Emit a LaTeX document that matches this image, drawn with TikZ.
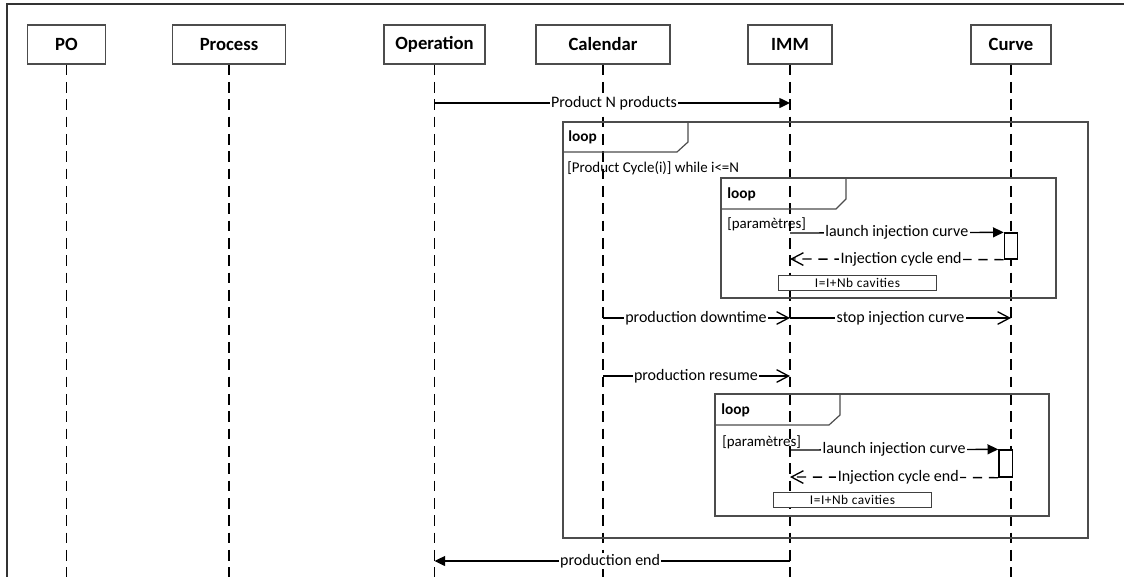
\documentclass[tikz,border=0pt]{standalone}
\usepackage{fontspec}
\setmainfont{Carlito}
\usetikzlibrary{arrows.meta}
\begin{document}
\begin{tikzpicture}[x=0.75pt,y=-0.75pt,
  head/.style={draw=black!70, line width=0.8pt, minimum height=29.25pt, inner sep=0pt, font=\fontsize{14}{16}\selectfont\bfseries},
  life/.style={black, line width=1pt, dash pattern=on 8pt off 5pt},
  frame/.style={draw=black!70, line width=0.9pt},
  msg/.style={black, line width=1pt},
  rmsg/.style={black, line width=1pt, dash pattern=on 7pt off 5pt},
  fillarrow/.style={-{Triangle[length=8pt,width=7.5pt]}},
  openarrow/.style={-{Straight Barb[length=9pt,width=9.5pt,line width=1pt]}},
  lbl/.style={fill=white, inner sep=1pt, font=\fontsize{12}{14}\selectfont},
  looplbl/.style={anchor=west, inner sep=0pt, font=\fontsize{11.5}{13}\selectfont\bfseries},
  guard/.style={anchor=west, inner sep=0pt, font=\fontsize{11.2}{13}\selectfont},
  note/.style={draw=black!75, line width=0.7pt, fill=white, minimum width=119pt, minimum height=11pt, inner sep=0pt, font=\fontsize{10}{11}\selectfont\addfontfeature{LetterSpace=4}},
  act/.style={draw=black, line width=1pt, fill=white, minimum width=10pt, inner sep=0pt}
]
\useasboundingbox (0,0) rectangle (1124,576);
% outer frame
\draw[black!80, line width=1.5pt] (7,580) -- (7,4) -- (1130,4);

% lifeline heads
\node[head, minimum width=58.5pt] (po) at (66.5,44.5) {PO};
\node[head, minimum width=84.75pt] (proc) at (229,44.5) {Process};
\node[head, minimum width=75.75pt] (oper) at (434.5,44.5) {Operation};
\node[head, minimum width=100.5pt] (cal) at (603,44.5) {Calendar};
\node[head, minimum width=63pt] (imm) at (790,44.5) {IMM};
\node[head, minimum width=60pt] (curve) at (1011,44.5) {Curve};

% lifeline ends
\coordinate (poE) at (66.5,580);
\coordinate (procE) at (229,580);
\coordinate (operE) at (434.5,580);
\coordinate (calE) at (603,580);
\coordinate (immE) at (790,580);
\coordinate (curveE) at (1011,580);
\draw[life] (po.south) -- (poE);
\draw[life] (proc.south) -- (procE);
\draw[life] (oper.south) -- (operE);
\draw[life] (cal.south) -- (calE);
\draw[life] (imm.south) -- (immE);
\draw[life] (curve.south) -- (curveE);

% message 1
\coordinate (m1a) at (434.5,103);
\coordinate (m1b) at (790,103);
\draw[msg, fillarrow] (m1a) -- (m1b) node[lbl, pos=0.505] (l1) {Product N products};

% outer loop
\draw[frame] (563,122) rectangle (1088,538);
\draw[frame] (688,122) -- (688,142) -- (677,152) -- (563,152);
\node[looplbl] (loop1) at (568,137) {loop};
\node[guard] (g1) at (567,168) {[Product Cycle(i)] while i<=N};

% inner loop 1
\draw[frame] (721,178) rectangle (1056,298);
\draw[frame] (846,178) -- (846,199) -- (836,209) -- (721,209);
\node[looplbl] (loop2) at (727,194) {loop};
\node[guard] (g2) at (727,224) {[paramètres]};
\node[act, minimum height=19.5pt] (act1) at (1011,246) {};
\coordinate (a1) at (790,233);
\draw[msg, fillarrow] (a1) -- (act1.north west) node[lbl, pos=0.5] (l2) {launch injection curve};
\coordinate (a2) at (790,259);
\draw[rmsg, openarrow] (act1.south west) -- (a2) node[lbl, pos=0.48] (l3) {Injection cycle end};
\node[note] (n1) at (857.5,283) {I=I+Nb cavities};

% production downtime / stop injection curve
\coordinate (d1) at (603,318);
\coordinate (d2) at (790,318);
\coordinate (d3) at (1011,318);
\draw[msg, openarrow] (d1) -- (d2) node[lbl, pos=0.497] (l4) {production downtime};
\draw[msg, openarrow] (d2) -- (d3) node[lbl, pos=0.5] (l5) {stop injection curve};

% production resume
\coordinate (r1) at (603,376);
\coordinate (r2) at (790,376);
\draw[msg, openarrow] (r1) -- (r2) node[lbl, pos=0.497] (l6) {production resume};

% inner loop 2
\draw[frame] (715,394) rectangle (1049,516);
\draw[frame] (840,394) -- (840,415) -- (829,425) -- (715,425);
\node[looplbl] (loop3) at (721,410) {loop};
\node[guard] (g3) at (722,442) {[paramètres]};
\node[act, minimum height=20.25pt] (act2) at (1005.5,463.5) {};
\coordinate (b1) at (790,450);
\draw[msg, fillarrow] (b1) -- (act2.north west) node[lbl, pos=0.5] (l7) {launch injection curve};
\coordinate (b2) at (790,477);
\draw[rmsg, openarrow] (act2.south west) -- (b2) node[lbl, pos=0.48] (l8) {Injection cycle end};
\node[note] (n2) at (852.5,500) {I=I+Nb cavities};

% production end
\coordinate (e1) at (790,561);
\coordinate (e2) at (434.5,561);
\draw[msg, fillarrow] (e1) -- (e2) node[lbl, pos=0.506] (l9) {production end};
\end{tikzpicture}
\end{document}
